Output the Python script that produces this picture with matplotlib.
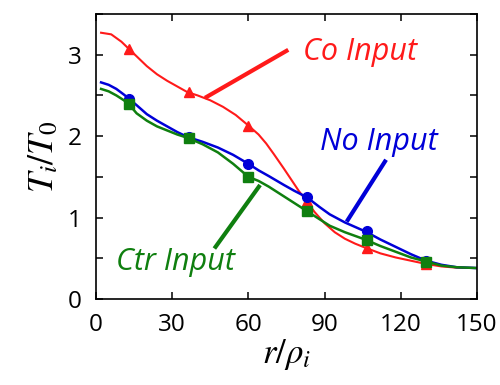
import matplotlib
matplotlib.use("Agg")
import matplotlib.pyplot as plt
from matplotlib.ticker import MultipleLocator, FixedLocator

plt.rcParams['mathtext.fontset'] = 'stix'

# line samples
r_co = [2, 6, 10, 13, 16, 20, 24, 28, 32, 36, 40, 45, 50, 55, 60, 64, 67, 70, 74, 77, 80, 83,
        86, 90, 94, 98, 102, 106, 112, 118, 124, 130, 136, 142, 150]
t_co = [3.27, 3.25, 3.16, 3.07, 2.98, 2.86, 2.76, 2.68, 2.61, 2.54, 2.50, 2.44, 2.36, 2.26, 2.13,
        2.02, 1.91, 1.78, 1.60, 1.46, 1.32, 1.20, 1.07, 0.93, 0.82, 0.74, 0.68, 0.63, 0.56, 0.51,
        0.47, 0.43, 0.40, 0.385, 0.38]

r_no = [2, 5, 8, 11, 13, 16, 20, 24, 28, 32, 36, 42, 48, 54, 60, 64, 68, 74, 78, 83, 88, 92, 98,
        106, 112, 118, 124, 130, 136, 142, 150]
t_no = [2.66, 2.63, 2.58, 2.51, 2.46, 2.38, 2.27, 2.19, 2.12, 2.05, 1.99, 1.93, 1.86, 1.77, 1.66,
        1.58, 1.51, 1.40, 1.33, 1.25, 1.13, 1.04, 0.94, 0.83, 0.73, 0.64, 0.55, 0.47, 0.42, 0.39, 0.38]

r_ctr = [2, 5, 8, 11, 13, 16, 20, 24, 28, 32, 36, 42, 48, 54, 60, 64, 68, 74, 78, 83, 88, 92, 98,
         106, 112, 118, 124, 130, 136, 142, 150]
t_ctr = [2.58, 2.55, 2.50, 2.44, 2.39, 2.28, 2.19, 2.12, 2.07, 2.02, 1.98, 1.90, 1.80, 1.66, 1.50,
         1.45, 1.38, 1.26, 1.18, 1.08, 0.98, 0.90, 0.82, 0.73, 0.65, 0.58, 0.51, 0.46, 0.41, 0.39, 0.38]

# marker points
r_mk = [13, 36.5, 60, 83, 106.5, 130]
co_mk = [3.07, 2.54, 2.13, 1.20, 0.63, 0.43]
no_mk = [2.46, 1.99, 1.66, 1.25, 0.83, 0.47]
ctr_mk = [2.39, 1.98, 1.50, 1.08, 0.73, 0.46]

xticks = [0, 30, 60, 90, 120, 150]
yticks = [0, 1, 2, 3]

RED = '#ff1a1a'
BLUE = '#0000d8'
GREEN = '#0f7f0f'

fig = plt.figure(figsize=(5.0, 3.85), dpi=100)
ax = fig.add_axes([96/500, 1-299/385, (477-96)/500, (299-14)/385])

ax.plot(r_co, t_co, color=RED, lw=1.5)
ax.plot(r_no, t_no, color=BLUE, lw=1.8)
ax.plot(r_ctr, t_ctr, color=GREEN, lw=1.8)
ax.plot(r_mk, co_mk, ls='none', marker='^', ms=7, color=RED)
ax.plot(r_mk, no_mk, ls='none', marker='o', ms=7, color=BLUE)
ax.plot(r_mk, ctr_mk, ls='none', marker='s', ms=7, color=GREEN)

ax.set_xlim(0, 150)
ax.set_ylim(0, 3.5)
ax.xaxis.set_major_locator(FixedLocator(xticks))
ax.yaxis.set_major_locator(FixedLocator(yticks))
ax.yaxis.set_minor_locator(MultipleLocator(0.5))
ax.tick_params(which='both', direction='in', top=True, right=True, length=5, width=1.1,
               labelsize=17.5, pad=10)
ax.tick_params(which='minor', length=5)
for lab in ax.get_xticklabels() + ax.get_yticklabels():
    lab.set_fontfamily('Open Sans')
for s in ax.spines.values():
    s.set_linewidth(1.2)

ax.set_xlabel(r'$r/\rho_i$', fontsize=25, labelpad=0)
ax.set_ylabel(r'$T_i/T_0$', fontsize=26, labelpad=6)

# annotations
ax.text(81.5, 2.93, 'Co Input', color=RED, fontsize=22, style='italic',
        family='Open Sans', ha='left', va='baseline')
ax.plot([75.7, 42.9], [3.06, 2.47], color=RED, lw=3, solid_capstyle='butt')
ax.text(88.0, 1.83, 'No Input', color=BLUE, fontsize=22, style='italic',
        family='Open Sans', ha='left', va='baseline')
ax.plot([114.2, 98.7], [1.71, 0.95], color=BLUE, lw=3, solid_capstyle='butt')
ax.text(8.0, 0.36, 'Ctr Input', color=GREEN, fontsize=22, style='italic',
        family='Open Sans', ha='left', va='baseline')
ax.plot([46.6, 64.6], [0.62, 1.40], color=GREEN, lw=3, solid_capstyle='butt')

fig.savefig('out.png', dpi=100)
